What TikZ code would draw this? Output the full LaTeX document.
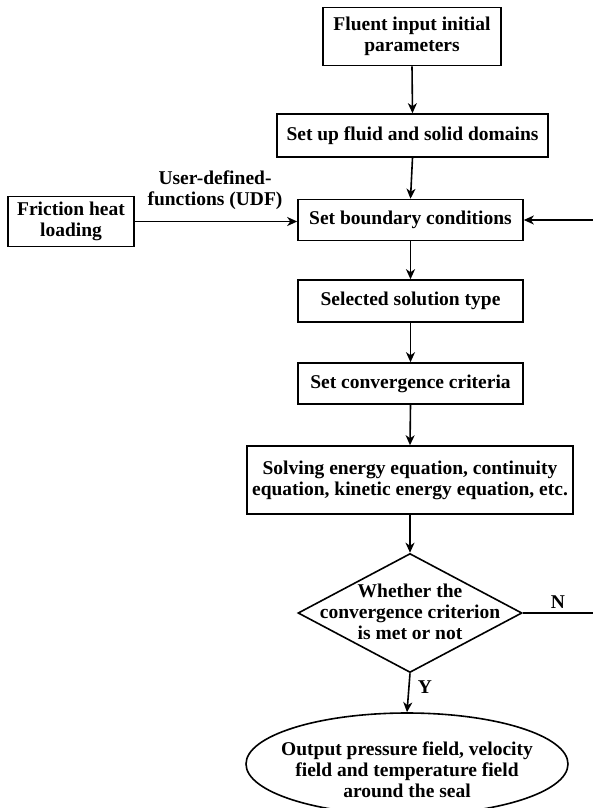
\documentclass[tikz,border=0pt]{standalone}
\usepackage{fontspec}
\setmainfont{Liberation Serif}
\usetikzlibrary{shapes.geometric,arrows.meta}
\newcommand{\figfont}{\fontsize{19.5}{21}\selectfont\bfseries}
\begin{document}
\begin{tikzpicture}[x=1pt,y=-1pt,
  box/.style={draw,line width=1.6pt,inner sep=0pt,align=center,font=\figfont},
  txt/.style={inner sep=0pt,align=center,font=\figfont},
  arr/.style={line width=1.6pt,-{Stealth[length=10pt,width=9pt,inset=3pt]}},
  ln/.style={line width=1.6pt}]
\useasboundingbox (0,0) rectangle (593,808);
\clip (0,0) rectangle (593,808);
\node[box,minimum width=178pt,minimum height=58pt] (b1) at (412,36.5) {Fluent input initial\\parameters};
\node[box,minimum width=271pt,minimum height=43pt] (b2) at (412.5,135.5) {Set up fluid and solid domains};
\node[box,minimum width=225pt,minimum height=41pt] (b3) at (410.5,220) {Set boundary conditions};
\node[box,minimum width=126pt,minimum height=50pt] (fr) at (71,221.5) {Friction heat\\loading};
\node[box,minimum width=225pt,minimum height=42pt] (b4) at (410.5,301) {Selected solution type};
\node[box,minimum width=225pt,minimum height=41pt] (b5) at (410.5,383.5) {Set convergence criteria};
\node[box,minimum width=326pt,minimum height=68pt] (b6) at (410,480) {Solving energy equation, continuity\\equation, kinetic energy equation, etc.};
\node[draw,diamond,line width=1.6pt,inner sep=0pt,minimum width=224pt,minimum height=119pt] (dia) at (410,613) {};
\node[txt] (diat) at (410,612) {Whether the\\convergence criterion\\is met or not};
\node[draw,ellipse,line width=1.6pt,inner sep=0pt,minimum width=322pt,minimum height=102pt] (ell) at (407,764) {};
\node[txt] (ellt) at (407,770) {Output pressure field, velocity\\field and temperature field\\around the seal};
\node[txt] (udf) at (215,190) {User-defined-\\functions (UDF)};
\node[txt] (nl) at (558,602) {N};
\node[txt] (yl) at (425,687) {Y};
\coordinate (rc) at (596,613);
\draw[arr] (b1.south) -- (b2.north);
\draw[arr] (b2.south) -- (b3.north);
\draw[arr] (b3.south) -- (b4.north);
\draw[arr] (b4.south) -- (b5.north);
\draw[arr] (b5.south) -- (b6.north);
\draw[arr] (b6.south) -- (dia.north);
\draw[arr] (dia.south) -- (ell.north);
\draw[arr] (fr.east) -- (fr.east -| b3.west);
\draw[arr] (dia.east) -- (rc) |- (b3.east);
\end{tikzpicture}
\end{document}
